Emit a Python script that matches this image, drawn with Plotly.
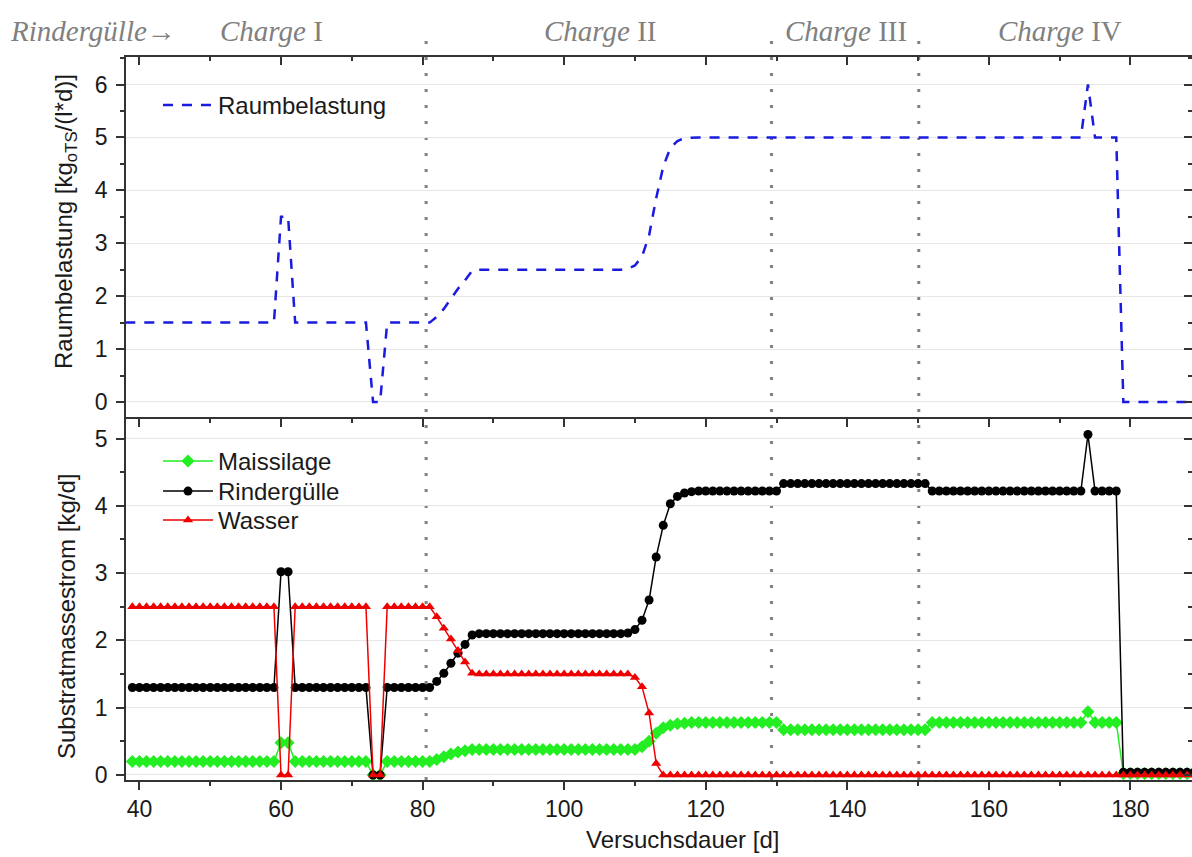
import plotly.graph_objects as go

# ---------------- data ----------------
days = list(range(39, 190))          # Versuchsdauer [d], lower panel
days_rb = list(range(38, 190))       # Versuchsdauer [d], upper panel


def runs(*segs):
    out = []
    for s in segs:
        if isinstance(s, tuple):
            out += [s[0]] * s[1]
        else:
            out += list(s)
    return out


maissilage = runs((0.2, 21), (0.48, 2), (0.2, 11), (0.0, 2), (0.2, 7),
                  [0.23, 0.27, 0.31, 0.34, 0.36, 0.38],
                  (0.38, 23),
                  [0.42, 0.50, 0.62, 0.70, 0.74, 0.76, 0.77],
                  (0.78, 13), (0.67, 21), (0.78, 22), [0.94], (0.78, 4),
                  (0.02, 11))

rinderguelle = runs((1.3, 21), (3.02, 2), (1.3, 11), (0.0, 2), (1.3, 7),
                    [1.39, 1.51, 1.66, 1.81, 1.94, 2.08],
                    (2.1, 21),
                    [2.11, 2.16, 2.30, 2.6, 3.24, 3.71, 4.03, 4.14, 4.19, 4.21],
                    (4.22, 12), (4.33, 21), (4.22, 22), [5.06], (4.22, 4),
                    (0.04, 11))

wasser = runs((2.5, 21), (0.0, 2), (2.5, 11), (0.0, 2), (2.5, 7),
              [2.35, 2.18, 2.02, 1.85, 1.68, 1.51],
              (1.5, 22),
              [1.45, 1.31, 0.92, 0.17],
              (0.0, 76))

raumbelastung = runs((1.5, 22), (3.5, 2), (1.5, 11), (0.0, 2), (1.5, 7),
                     [1.61, 1.76, 1.95, 2.14, 2.3, 2.48],
                     (2.5, 21),
                     [2.52, 2.58, 2.75, 3.15, 3.85, 4.45, 4.8, 4.93, 4.99],
                     (5.0, 56), [6.0], (5.0, 4), (0.0, 11))

charge_bounds = [80.5, 129.3, 150.1]
charge_labels = ["<i>Charge</i> I", "<i>Charge</i> II", "<i>Charge</i> III", "<i>Charge</i> IV"]
charge_label_x = [271, 600, 846, 1060]   # pixel centres of the header labels

x_range = [38.1, 188.7]
y1_range = [-0.284, 6.52]
y2_range = [-0.075, 5.32]

# ---------------- figure ----------------
W, H = 1192, 857
ML, MR, MT, MB = 126, 0, 57, 77
PW = W - ML - MR
PH = H - MT - MB
split = (780 - 417) / PH


def px_x(p):
    return (p - ML) / PW


def px_y(p):
    return (H - MB - p) / PH


SANS = "Liberation Sans, Arial, sans-serif"
SERIF = "Liberation Serif, Times New Roman, serif"
AX = "#333333"
TXT = "#1a1a1a"

fig = go.Figure()

fig.add_trace(go.Scatter(
    x=days_rb, y=raumbelastung, mode="lines", name="Raumbelastung",
    line=dict(color="#1a1ae0", width=2.5, dash="10px,9px"),
    xaxis="x", yaxis="y", legend="legend"))

fig.add_trace(go.Scatter(
    x=days, y=maissilage, mode="lines+markers", name="Maissilage",
    line=dict(color="#22ee22", width=1.5),
    marker=dict(symbol="diamond", size=10, color="#22ee22"),
    xaxis="x2", yaxis="y2", legend="legend2"))
fig.add_trace(go.Scatter(
    x=days, y=rinderguelle, mode="lines+markers", name="Rindergülle",
    line=dict(color="#000000", width=1.5),
    marker=dict(symbol="circle", size=9, color="#000000"),
    xaxis="x2", yaxis="y2", legend="legend3"))
fig.add_trace(go.Scatter(
    x=days, y=wasser, mode="lines+markers", name="Wasser",
    line=dict(color="#ee0000", width=1.5),
    marker=dict(symbol="triangle-up", size=9, color="#ee0000"),
    xaxis="x2", yaxis="y2", legend="legend4"))

# invisible traces so the mirror (inside-tick) axes are drawn
for xa, ya in [("x3", "y"), ("x", "y3"), ("x2", "y4")]:
    fig.add_trace(go.Scatter(x=[None], y=[None], xaxis=xa, yaxis=ya,
                             showlegend=False, hoverinfo="skip"))

tickfont = dict(family=SANS, size=23, color=TXT)

xbase = dict(range=x_range, showgrid=False, zeroline=False, showline=True,
             linecolor=AX, linewidth=1.5, tickcolor=AX, tickwidth=1.5,
             tickmode="linear", tick0=40, dtick=20, ticklen=8,
             tickfont=tickfont)
ybase = dict(showgrid=True, gridcolor="#e6e6e6", gridwidth=1, zeroline=False,
             showline=True, linecolor=AX, linewidth=1.5, tickcolor=AX,
             tickwidth=1.5, tickmode="linear", tick0=0, dtick=1, ticklen=8,
             tickfont=tickfont, ticklabelstandoff=4)


def leg(top_px):
    return dict(x=px_x(158), y=px_y(top_px), xanchor="left", yanchor="top",
                bgcolor="rgba(0,0,0,0)", itemwidth=50,
                font=dict(family=SANS, size=24, color=TXT))


fig.update_layout(
    width=W, height=H,
    margin=dict(l=ML, r=MR, t=MT, b=MB),
    paper_bgcolor="white", plot_bgcolor="rgba(0,0,0,0)",
    xaxis=dict(xbase, anchor="y", side="bottom", ticks="outside",
               showticklabels=False,
               minor=dict(ticks="outside", dtick=10, ticklen=4, tickcolor=AX, tickwidth=1.5)),
    xaxis3=dict(xbase, anchor="y", overlaying="x", side="top", ticks="inside",
                showticklabels=False,
                minor=dict(ticks="inside", dtick=10, ticklen=4, tickcolor=AX, tickwidth=1.5)),
    xaxis2=dict(xbase, anchor="y2", side="bottom", ticks="outside",
                showticklabels=True,
                minor=dict(ticks="outside", dtick=10, ticklen=4, tickcolor=AX, tickwidth=1.5)),
    yaxis=dict(ybase, domain=[split, 1], anchor="x", range=y1_range,
               ticks="outside",
               minor=dict(ticks="outside", dtick=0.5, ticklen=4, tickcolor=AX, tickwidth=1.5)),
    yaxis3=dict(ybase, anchor="x", overlaying="y", side="right", range=y1_range,
                ticks="inside", showticklabels=False, showgrid=False,
                minor=dict(ticks="inside", dtick=0.5, ticklen=4, tickcolor=AX, tickwidth=1.5)),
    yaxis2=dict(ybase, domain=[0, split], anchor="x2", range=y2_range,
                ticks="outside",
                minor=dict(ticks="outside", dtick=0.5, ticklen=4, tickcolor=AX, tickwidth=1.5)),
    yaxis4=dict(ybase, anchor="x2", overlaying="y2", side="right", range=y2_range,
                ticks="inside", showticklabels=False, showgrid=False,
                minor=dict(ticks="inside", dtick=0.5, ticklen=4, tickcolor=AX, tickwidth=1.5)),
    legend=leg(83),
    legend2=leg(439),
    legend3=leg(469),
    legend4=leg(498),
    showlegend=True,
)

# charge boundaries (dotted vertical lines)
tops = [px_y(40), px_y(29), px_y(29)]
for xb, yt in zip(charge_bounds, tops):
    fig.add_shape(type="line", xref="x", yref="paper", x0=xb, x1=xb, y0=0, y1=yt,
                  line=dict(color="#808080", width=3, dash="3px,13px"), layer="below")

hfont = dict(family=SERIF, size=29, color="#808080")
annotations = []
annotations.append(dict(text="<i>Rindergülle→</i>", xref="paper", yref="paper",
                        x=px_x(8), y=px_y(31), xanchor="left", yanchor="middle",
                        showarrow=False, font=hfont))
for lab, cx in zip(charge_labels, charge_label_x):
    annotations.append(dict(text=lab, xref="paper", yref="paper",
                            x=px_x(cx), y=px_y(31), xanchor="center", yanchor="middle",
                            showarrow=False, font=hfont))
annotations.append(dict(text="Raumbelastung [kg<sub>oTS</sub>/(l*d)]", textangle=-90,
                        xref="paper", yref="paper", x=px_x(66), y=px_y(222),
                        xanchor="center", yanchor="middle", showarrow=False,
                        font=dict(family=SANS, size=24, color=TXT)))
annotations.append(dict(text="Substratmassestrom [kg/d]", textangle=-90,
                        xref="paper", yref="paper", x=px_x(66), y=px_y(617),
                        xanchor="center", yanchor="middle", showarrow=False,
                        font=dict(family=SANS, size=24, color=TXT)))
annotations.append(dict(text="Versuchsdauer [d]", xref="paper", yref="paper",
                        x=px_x(682), y=px_y(839), xanchor="center", yanchor="middle",
                        showarrow=False, font=dict(family=SANS, size=24, color=TXT)))
fig.update_layout(annotations=annotations)

fig.write_html("out.html")
